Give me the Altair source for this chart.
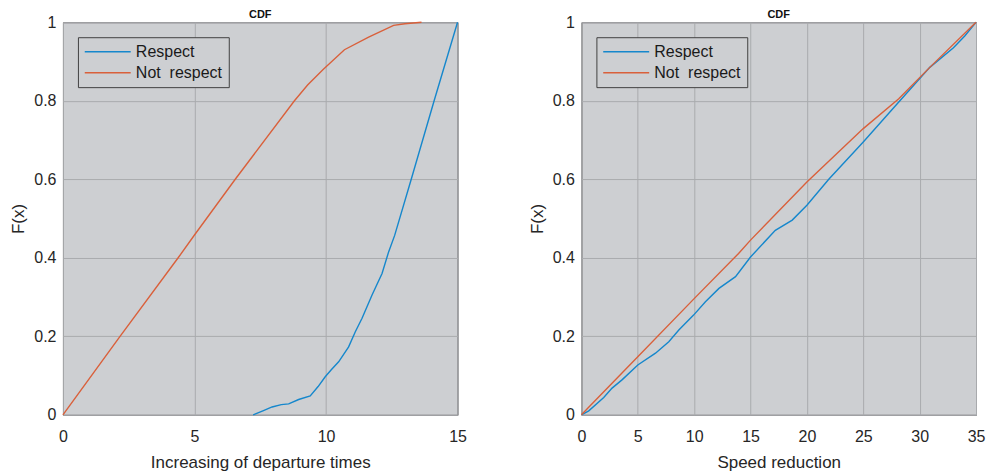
import altair as alt
import pandas as pd

# ---- data ----
# Left panel: Increasing of departure times
left_respect_x = [7.23, 7.6, 7.95, 8.3, 8.58, 8.96, 9.4, 9.7, 9.97, 10.2, 10.48, 10.86, 11.11, 11.37, 11.75, 12.13, 12.38, 12.61, 13.24, 14.11, 15.0]
left_respect_F = [0.0, 0.01, 0.02, 0.026, 0.028, 0.039, 0.048, 0.072, 0.097, 0.115, 0.135, 0.173, 0.211, 0.246, 0.305, 0.36, 0.415, 0.457, 0.6, 0.8, 1.0]

left_not_x = [0.0, 2.17, 4.38, 5.0, 6.55, 8.8, 9.3, 9.9, 10.7, 11.62, 12.57, 13.0, 13.63]
left_not_F = [0.0, 0.2, 0.4, 0.458, 0.6, 0.8, 0.84, 0.88, 0.93, 0.962, 0.992, 0.996, 1.0]

# Right panel: Speed reduction
right_respect_x = [0.0, 0.65, 1.98, 2.72, 3.6, 5.0, 6.57, 7.75, 8.64, 9.95, 11.0, 12.2, 13.67, 15.0, 17.2, 18.7, 20.0, 21.94, 25.0, 28.15, 30.9, 33.0, 34.0, 35.0]
right_respect_F = [0.0, 0.01, 0.044, 0.068, 0.089, 0.127, 0.157, 0.186, 0.216, 0.254, 0.288, 0.322, 0.352, 0.402, 0.47, 0.496, 0.534, 0.6, 0.695, 0.797, 0.885, 0.935, 0.965, 1.0]

right_not_x = [0.0, 5.0, 10.0, 13.94, 15.0, 20.0, 25.0, 28.15, 30.9, 35.0]
right_not_F = [0.0, 0.148, 0.296, 0.411, 0.445, 0.593, 0.729, 0.805, 0.885, 1.0]

series_names = ["Respect", "Not\u00a0\u00a0respect"]
series_colors = ["#1587cc", "#d9603b"]

y_ticks = [0, 0.2, 0.4, 0.6, 0.8, 1]
left_x_ticks = [0, 5, 10, 15]
right_x_ticks = [0, 5, 10, 15, 20, 25, 30, 35]

FONT = "Liberation Sans"
BG = "#cdcfd2"


def make_df(rx, rF, nx, nF):
    a = pd.DataFrame({"x": rx, "F": rF, "series": series_names[0]})
    b = pd.DataFrame({"x": nx, "F": nF, "series": series_names[1]})
    return pd.concat([a, b], ignore_index=True)


def panel(df, xmax, xticks, xtitle):
    return alt.Chart(df).mark_line(strokeWidth=1.4).encode(
        x=alt.X("x:Q",
                scale=alt.Scale(domain=[0, xmax], nice=False, zero=False),
                axis=alt.Axis(values=xticks, title=xtitle, format="~g")),
        y=alt.Y("F:Q",
                scale=alt.Scale(domain=[0, 1], nice=False),
                axis=alt.Axis(values=y_ticks, title="F(x)", format="~g")),
        color=alt.Color("series:N",
                        scale=alt.Scale(domain=series_names, range=series_colors),
                        legend=alt.Legend(orient="none", legendX=15, legendY=15,
                                          title=None, symbolType="M-1,0H5",
                                          symbolSize=235, symbolStrokeWidth=1.5,
                                          labelFontSize=16, labelFont=FONT,
                                          labelColor="#1a1a1a", labelLimit=0,
                                          strokeColor="#404040", fillColor=BG,
                                          padding=6, rowPadding=4, labelOffset=35,
                                          cornerRadius=0)),
        detail="series:N",
    ).properties(
        width=395, height=393,
        title=alt.TitleParams("CDF", fontSize=11, fontWeight="bold", font=FONT,
                              color="#111111", offset=-6, frame="group"),
    )


left = panel(make_df(left_respect_x, left_respect_F, left_not_x, left_not_F),
             15, left_x_ticks, "Increasing of departure times")
right = panel(make_df(right_respect_x, right_respect_F, right_not_x, right_not_F),
              35, right_x_ticks, "Speed reduction")

chart = alt.hconcat(left, right, spacing=124, bounds="flush").resolve_legend(
    color="independent"
).resolve_scale(color="independent").properties(
    padding={"left": 1, "top": 0, "right": 0, "bottom": 0},
    background="white",
).configure_view(
    fill=BG, stroke="#555555", strokeWidth=1,
).configure_axis(
    labelFont=FONT, titleFont=FONT, labelFontSize=16, titleFontSize=17,
    labelColor="#262626", titleColor="#262626", titleFontWeight="normal",
    grid=True, gridColor="#a9abae", gridWidth=1, domain=False, ticks=False,
    labelFlush=False,
).configure_axisX(
    labelPadding=14, titlePadding=10,
).configure_axisY(
    labelPadding=7, titlePadding=6,
)

chart.save("out.html", embed_options={"renderer": "svg", "actions": False})
